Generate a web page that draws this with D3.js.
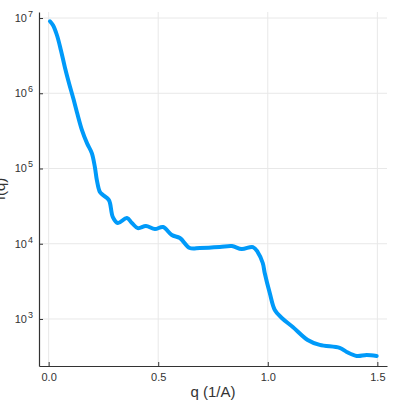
<!DOCTYPE html>
<html>
<head>
<style>
  body { margin: 0; background: #fff; }
  svg { display: block; font-family: "Liberation Sans", Arial, sans-serif; }
  .grid line { stroke: #e8e8e8; stroke-width: 1; }
</style>
</head>
<body>
<svg id="chart" width="399" height="400"></svg>
<script src="https://cdnjs.cloudflare.com/ajax/libs/d3/7.8.5/d3.min.js"></script>
<script>
  // scattering curve (q in 1/A, intensity as log10)
  const q = [0.006, 0.020, 0.038, 0.056, 0.074, 0.093, 0.111, 0.129, 0.152, 0.175,
             0.197, 0.211, 0.220, 0.234, 0.248, 0.275, 0.293, 0.316, 0.357, 0.380,
             0.407, 0.444, 0.485, 0.522, 0.562, 0.599, 0.644, 0.690, 0.781, 0.836,
             0.881, 0.932, 0.954, 0.977, 0.986, 1.009, 1.032, 1.064, 1.114, 1.182,
             1.237, 1.328, 1.360, 1.406, 1.451, 1.497];
  const logI = [6.957, 6.904, 6.771, 6.572, 6.347, 6.134, 5.948, 5.749, 5.510, 5.337,
                5.205, 5.019, 4.846, 4.687, 4.647, 4.580, 4.355, 4.275, 4.341, 4.275,
                4.208, 4.235, 4.195, 4.222, 4.116, 4.076, 3.943, 3.943, 3.956, 3.969,
                3.930, 3.956, 3.890, 3.744, 3.611, 3.345, 3.120, 3.013, 2.894, 2.721,
                2.655, 2.615, 2.562, 2.509, 2.522, 2.509];
  const xTicks = [0, 0.5, 1.0, 1.5];
  const yExp = [3, 4, 5, 6, 7];

  const data = q.map((d, i) => [d, Math.pow(10, logI[i])]);

  const svg = d3.select("#chart");
  const mLeft = 39, mRight = 387, mTop = 12, mBottom = 366;

  const x = d3.scaleLinear().domain([-0.044, 1.544]).range([mLeft, mRight]);
  const y = d3.scaleLog().domain([Math.pow(10, 2.375), Math.pow(10, 7.08)]).range([mBottom, mTop]);

  // grid
  const grid = svg.append("g").attr("class", "grid");
  grid.selectAll(".gx").data(xTicks).enter().append("line")
    .attr("x1", d => x(d)).attr("x2", d => x(d))
    .attr("y1", mTop).attr("y2", mBottom);
  grid.selectAll(".gy").data(yExp).enter().append("line")
    .attr("x1", mLeft).attr("x2", mRight)
    .attr("y1", d => y(Math.pow(10, d))).attr("y2", d => y(Math.pow(10, d)));

  // curve
  svg.append("path")
    .datum(data)
    .attr("fill", "none")
    .attr("stroke", "#009af9")
    .attr("stroke-width", 4)
    .attr("stroke-linejoin", "round")
    .attr("stroke-linecap", "round")
    .attr("d", d3.line().x(d => x(d[0])).y(d => y(d[1])).curve(d3.curveCatmullRom.alpha(0.5)));

  // axes
  const xAxis = svg.append("g").attr("transform", `translate(0,${mBottom})`)
    .call(d3.axisBottom(x).tickValues(xTicks).tickFormat(d3.format(".1f")).tickSizeInner(-4).tickSizeOuter(0).tickPadding(7));
  const yAxis = svg.append("g").attr("transform", `translate(${mLeft},0)`)
    .call(d3.axisLeft(y).tickValues(yExp.map(e => Math.pow(10, e))).tickFormat("").tickSizeInner(-4).tickSizeOuter(0));

  [xAxis, yAxis].forEach(a => {
    a.select(".domain").attr("stroke", "#333").attr("stroke-width", 1.2);
    a.selectAll(".tick line").attr("stroke", "#333");
  });
  xAxis.selectAll("text").attr("font-size", 11).attr("fill", "#333").attr("font-family", "Liberation Sans, Arial, sans-serif");

  // y tick labels as 10^n
  const yl = svg.append("g").attr("fill", "#333").attr("font-size", 11);
  yExp.forEach(e => {
    yl.append("text")
      .attr("x", 27).attr("y", y(Math.pow(10, e)) + 4)
      .attr("text-anchor", "end").text("10");
    yl.append("text")
      .attr("x", 28).attr("y", y(Math.pow(10, e)) - 1)
      .attr("font-size", 9).text(e);
  });

  // axis titles
  svg.append("text")
    .attr("x", (mLeft + mRight) / 2).attr("y", 397)
    .attr("text-anchor", "middle").attr("font-size", 15).attr("fill", "#333")
    .text("q (1/A)");
  svg.append("text")
    .attr("transform", `translate(5,${(mTop + mBottom) / 2}) rotate(-90)`)
    .attr("text-anchor", "middle").attr("font-size", 15).attr("fill", "#333")
    .text("I(q)");
</script>
</body>
</html>
